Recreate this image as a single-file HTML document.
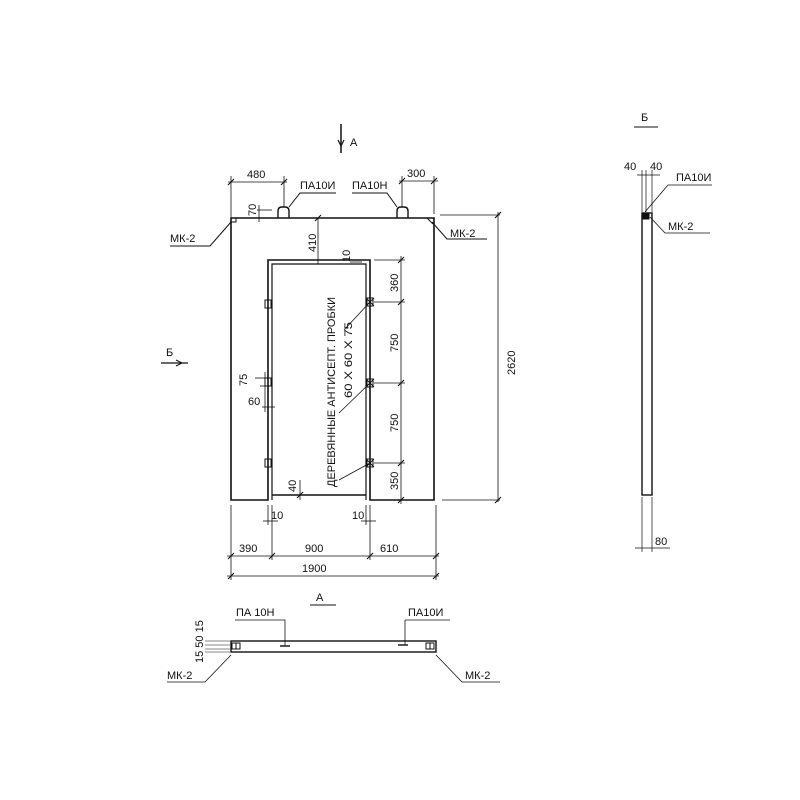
<!DOCTYPE html>
<html><head><meta charset="utf-8"><style>
html,body{margin:0;padding:0;background:#fff}
svg{display:block}
text{font-family:"Liberation Sans","DejaVu Sans",sans-serif;font-size:11px;fill:#111}
</style></head><body>
<svg width="800" height="800" viewBox="0 0 800 800" xmlns="http://www.w3.org/2000/svg" stroke="#111" fill="none" stroke-width="1">
<line x1="341" y1="124" x2="341" y2="153" stroke-width="1.5"/>
<path d="M338,140 L341,146 L344,140" stroke-width="1.2"/>
<text x="350" y="146" stroke="none" font-size="13">А</text>
<text x="166" y="356" stroke="none" font-size="12">Б</text>
<line x1="161" y1="363" x2="188" y2="363" stroke-width="1.2"/>
<path d="M176,360 L182,363 L176,366"/>

<path d="M231,218 L434,218 L434,500 L370,500 L370,260 L268,260 L268,500 L231,500 Z" stroke-width="1.6"/>
<path d="M272,500 L272,264 L366,264 L366,500" stroke-width="1.2"/>
<line x1="272" y1="495" x2="366" y2="495" stroke-width="1.4"/>
<g stroke-width="1">
<rect x="265" y="300" width="6" height="8"/><rect x="265" y="378" width="6" height="8"/><rect x="265" y="459" width="6" height="8"/>
<rect x="367" y="298" width="6" height="8"/><rect x="367" y="379" width="6" height="8"/><rect x="367" y="459" width="6" height="8"/>
<path d="M366,298 l8,8 M374,298 l-8,8 M366,379 l8,8 M374,379 l-8,8 M366,459 l8,8 M374,459 l-8,8"/>
</g>
<path d="M278,218 L278,211 Q278,207 282,207 L285,207 Q289,207 289,211 L289,218" stroke-width="1.4"/>
<path d="M397,218 L397,211 Q397,207 401,207 L404,207 Q408,207 408,211 L408,218" stroke-width="1.4"/>
<path d="M231,222 L236,222 L236,218" /><path d="M427,218 L433,224"/>
<path d="M170,246 L210,246 L231,222"/><text x="170" y="242" stroke="none">МК-2</text>
<path d="M487,239 L447,239 L432,222"/><text x="450" y="237" stroke="none">МК-2</text>
<path d="M289,207 L300,193 L336,193"/><text x="300" y="189" stroke="none">ПА10И</text>
<path d="M397,207 L387,193 L352,193"/><text x="352" y="189" stroke="none">ПА10Н</text>
<path d="M339,480 L370,463 M339,413 L370,383 M344,330 L370,302" stroke-width="0.8"/>
<text transform="translate(335,487) rotate(-90)" stroke="none" font-size="11" textLength="190" lengthAdjust="spacingAndGlyphs">ДЕРЕВЯННЫЕ АНТИСЕПТ. ПРОБКИ</text>
<text transform="translate(352,398) rotate(-90)" stroke="none" font-size="11" textLength="76" lengthAdjust="spacingAndGlyphs">60 X 60 X 75</text>

<g stroke-width="0.8">
<line x1="231" y1="176" x2="231" y2="218"/><line x1="284" y1="176" x2="284" y2="207"/>
<line x1="228" y1="182" x2="287" y2="182"/>
<line x1="402" y1="176" x2="402" y2="207"/><line x1="434" y1="176" x2="434" y2="214"/>
<line x1="399" y1="181" x2="438" y2="181"/>
<line x1="257" y1="210" x2="272" y2="210"/><line x1="257" y1="218" x2="262" y2="218"/><line x1="259" y1="205" x2="259" y2="222"/>
<line x1="440" y1="215" x2="500" y2="215"/><line x1="498" y1="212" x2="498" y2="502"/><line x1="442" y1="500" x2="500" y2="500"/>
<line x1="318" y1="218" x2="318" y2="264"/>
<line x1="350" y1="262" x2="362" y2="262"/>
<line x1="374" y1="260" x2="405" y2="260"/><line x1="374" y1="302" x2="405" y2="302"/>
<line x1="374" y1="383" x2="405" y2="383"/><line x1="374" y1="463" x2="405" y2="463"/>
<line x1="401" y1="256" x2="401" y2="504"/>
<line x1="255" y1="378" x2="270" y2="378"/><line x1="260" y1="386" x2="270" y2="386"/><line x1="262" y1="407" x2="275" y2="407"/>
<line x1="265" y1="372" x2="265" y2="412"/>
<line x1="300" y1="480" x2="300" y2="500"/><line x1="296" y1="495" x2="305" y2="495"/>
<line x1="231" y1="505" x2="231" y2="580"/><line x1="268" y1="505" x2="268" y2="525"/><line x1="272" y1="505" x2="272" y2="560"/>
<line x1="366" y1="505" x2="366" y2="525"/><line x1="370" y1="505" x2="370" y2="560"/><line x1="436" y1="505" x2="436" y2="580"/>
<line x1="263" y1="521" x2="278" y2="521"/><line x1="361" y1="521" x2="376" y2="521"/>
<line x1="227" y1="556" x2="439" y2="556"/>
<line x1="227" y1="576" x2="439" y2="576"/>
</g>
<g stroke-width="1.1">
<path d="M228,185 l6,-6 M281,185 l6,-6 M399,184 l6,-6 M431,184 l6,-6 M495,218 l6,-6 M495,503 l6,-6 M315,221 l6,-6 M398,263 l6,-6 M398,305 l6,-6 M398,386 l6,-6 M398,466 l6,-6 M398,503 l6,-6 M228,559 l6,-6 M269,559 l6,-6 M367,559 l6,-6 M433,559 l6,-6 M228,579 l6,-6 M433,579 l6,-6 M297,498 l6,-6"/>
</g>
<g stroke="none" font-size="11">
<text x="247" y="178">480</text><text x="407" y="177">300</text>
<text transform="translate(256,216) rotate(-90)">70</text>
<text transform="translate(316,252) rotate(-90)">410</text>
<text transform="translate(350,262) rotate(-90)" font-size="10">10</text>
<text transform="translate(398,292) rotate(-90)">360</text>
<text transform="translate(398,352) rotate(-90)">750</text>
<text transform="translate(398,432) rotate(-90)">750</text>
<text transform="translate(398,490) rotate(-90)">350</text>
<text transform="translate(515,375) rotate(-90)">2620</text>
<text transform="translate(247,386) rotate(-90)" font-size="10">75</text>
<text x="248" y="405" font-size="10">60</text>
<text transform="translate(296,492) rotate(-90)" font-size="10">40</text>
<text x="271" y="519" font-size="10">10</text>
<text x="352" y="519" font-size="10">10</text>
<text x="239" y="552">390</text><text x="305" y="552">900</text><text x="380" y="552">610</text>
<text x="302" y="572">1900</text>
<text x="316" y="601" font-size="13">А</text>
</g>
<line x1="310" y1="605" x2="336" y2="605"/>

<rect x="231" y="641" width="205" height="11" stroke-width="1.4"/>
<rect x="232" y="643" width="8" height="6"/><line x1="236" y1="643" x2="236" y2="649"/>
<rect x="426" y="643" width="8" height="6"/><line x1="430" y1="643" x2="430" y2="649"/>
<line x1="280" y1="646" x2="290" y2="646" stroke-width="1.4"/>
<line x1="398" y1="645" x2="408" y2="645" stroke-width="1.4"/>
<path d="M235,620 L285,620 L285,646 M405,620 L405,645 M405,620 L450,620" stroke-width="0.8"/>
<text x="236" y="616" stroke="none" font-size="11">ПА 10Н</text>
<text x="408" y="616" stroke="none" font-size="11">ПА10И</text>
<path d="M167,682 L205,682 L231,655" stroke-width="0.8"/><text x="167" y="679" stroke="none">МК-2</text>
<path d="M436,655 L462,682 L500,682" stroke-width="0.8"/><text x="465" y="679" stroke="none">МК-2</text>
<path d="M205,641 L230,641 M205,645 L230,645 M205,649 L230,649 M205,652 L230,652" stroke-width="0.6"/>
<text transform="translate(203,663) rotate(-90)" stroke="none" font-size="10">15 50 15</text>

<text x="641" y="121" stroke="none" font-size="12">Б</text>
<line x1="634" y1="127" x2="658" y2="127"/>
<rect x="642" y="213" width="10" height="282" stroke-width="1.4"/>
<rect x="643" y="214" width="6" height="5" fill="#111"/>
<path d="M642,170 L642,212 M646,170 L646,212 M652,170 L652,212 M637,175 L660,175" stroke-width="0.7"/>
<text x="624" y="170" stroke="none" font-size="11">40</text><text x="650" y="170" stroke="none" font-size="11">40</text>
<path d="M645,212 L668,185 L712,185" stroke-width="0.8"/><text x="676" y="181" stroke="none">ПА10И</text>
<path d="M650,217 L665,233 L710,233" stroke-width="0.8"/><text x="668" y="230" stroke="none">МК-2</text>
<path d="M642,497 L642,552 M652,497 L652,552 M635,548 L670,548" stroke-width="0.7"/>
<text x="655" y="545" stroke="none" font-size="11">80</text>
</svg>
</body></html>
